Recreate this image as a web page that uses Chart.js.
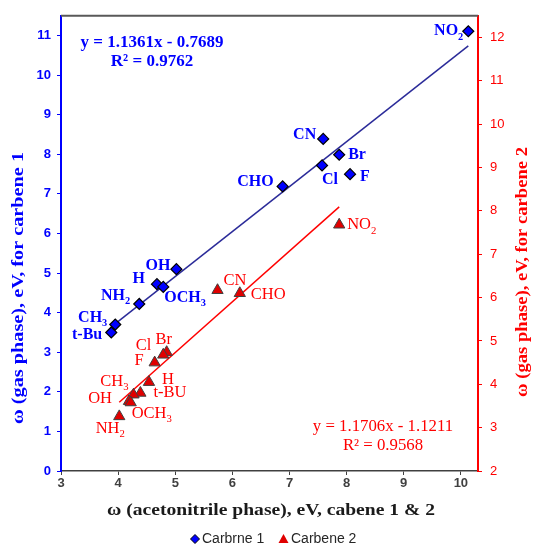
<!DOCTYPE html>
<html>
<head>
<meta charset="utf-8">
<script src="https://cdn.jsdelivr.net/npm/chart.js@4.4.0/dist/chart.umd.min.js"></script>
<style>
    body { margin: 0; background: #fff; }
</style>
</head>
<body>
<canvas id="chart" width="533" height="545"></canvas>
<script>
// carbene 1 (blue diamonds, left axis)
const subst1 = ["NO_2", "CN", "Br", "Cl", "F", "CHO", "OH", "H", "OCH_3", "NH_2", "CH_3", "t-Bu"];
const acn1 = [10.13, 7.59, 7.87, 7.57, 8.06, 6.88, 5.02, 4.68, 4.79, 4.37, 3.95, 3.88];
const gas1 = [11.11, 8.39, 7.99, 7.72, 7.50, 7.19, 5.10, 4.72, 4.65, 4.22, 3.70, 3.50];

// carbene 2 (red triangles, right axis)
const subst2 = ["NO_2", "CN", "CHO", "Br", "Cl", "F", "H", "t-BU", "CH_3", "OH", "OCH_3", "NH_2"];
const acn2 = [7.87, 5.74, 6.13, 4.85, 4.79, 4.64, 4.54, 4.39, 4.27, 4.19, 4.22, 4.02];
const gas2 = [7.68, 6.17, 6.10, 4.74, 4.68, 4.50, 4.05, 3.80, 3.76, 3.61, 3.58, 3.26];

// linear trendlines (from the equations on the chart)
const fitSlope = [1.1361, 1.1706];
const fitIntercept = [-0.7689, -1.1211];
const fitR2 = ["0.9762", "0.9568"];

const seriesNames = ["Carbrne 1", "Carbene 2"];

// label placement next to each point: [dx, dy, align]
const labelPos1 = [[-5, 0, "right"], [-7, -4, "right"], [9, 0, "left"], [0, 14, "left"], [10, 3, "left"], [-9, -5, "right"],
    [-6, -3, "right"], [-12, -5, "right"], [1, 11, "left"], [-9, -8, "right"], [-8, -7, "right"], [-9, 2, "right"]];
const labelPos2 = [[8, 0, "left"], [6, -10, "left"], [11, 1, "left"], [-3, -13, "center"], [-12, -9, "right"], [-11, -2, "right"],
    [13, -2, "left"], [13, 0, "left"], [-5, -13, "right"], [-17, -3, "right"], [1, 11, "left"], [-9, 12, "center"]];

const SERIF = '"Liberation Serif", "Times New Roman", serif';
const SANS = '"Liberation Sans", Arial, sans-serif';
const BLUE = "#0000ff";
const RED = "#ff0000";

function toPoints(xs, ys) {
    return xs.map((x, i) => ({ x: x, y: ys[i] }));
}

function trend(xs, k) {
    const lo = Math.min(...xs), hi = Math.max(...xs);
    return [lo, hi].map(x => ({ x: x, y: fitSlope[k] * x + fitIntercept[k] }));
}

// text with an optional subscript part after "_"
function drawRich(ctx, text, x, y, align, size, weight, color) {
    const [main, sub] = text.split("_");
    const subSize = size * 0.65;
    ctx.font = `${weight} ${size}px ${SERIF}`;
    const wMain = ctx.measureText(main).width;
    ctx.font = `${weight} ${subSize}px ${SERIF}`;
    const wSub = sub ? ctx.measureText(sub).width : 0;
    const total = wMain + wSub;
    let x0 = x;
    if (align === "right") x0 = x - total;
    if (align === "center") x0 = x - total / 2;
    ctx.fillStyle = color;
    ctx.textAlign = "left";
    ctx.textBaseline = "middle";
    ctx.font = `${weight} ${size}px ${SERIF}`;
    ctx.fillText(main, x0, y);
    if (sub) {
        ctx.font = `${weight} ${subSize}px ${SERIF}`;
        ctx.fillText(sub, x0 + wMain, y + size * 0.36);
    }
}

// centred title, stretched along its length to a given span (the original is a bit wide)
function drawTitle(ctx, text, cx, cy, angle, span, font, color) {
    ctx.save();
    ctx.translate(cx, cy);
    ctx.rotate(angle);
    ctx.font = font;
    ctx.fillStyle = color;
    ctx.textAlign = "center";
    ctx.textBaseline = "middle";
    const w = ctx.measureText(text).width;
    ctx.scale(span / w, 1);
    ctx.fillText(text, 0, 0);
    ctx.restore();
}

const extras = {
    id: "extras",
    afterDatasetsDraw(chart) {
        const ctx = chart.ctx;
        const area = chart.chartArea;
        const sx = chart.scales.x, sy = chart.scales.y, sy2 = chart.scales.y2;
        ctx.save();

        // top border of the plot
        ctx.strokeStyle = "#595959";
        ctx.lineWidth = 2;
        ctx.beginPath();
        ctx.moveTo(area.left, area.top);
        ctx.lineTo(area.right, area.top);
        ctx.stroke();

        // point labels
        subst1.forEach((s, i) => {
            const p = labelPos1[i];
            drawRich(ctx, s, sx.getPixelForValue(acn1[i]) + p[0], sy.getPixelForValue(gas1[i]) + p[1], p[2], 16, "bold", BLUE);
        });
        subst2.forEach((s, i) => {
            const p = labelPos2[i];
            drawRich(ctx, s, sx.getPixelForValue(acn2[i]) + p[0], sy2.getPixelForValue(gas2[i]) + p[1], p[2], 16.5, "normal", RED);
        });

        // trendline equations
        ctx.textAlign = "center";
        ctx.textBaseline = "middle";
        ctx.fillStyle = BLUE;
        ctx.font = `bold 17px ${SERIF}`;
        ctx.fillText(`y = ${fitSlope[0].toFixed(4)}x - ${Math.abs(fitIntercept[0]).toFixed(4)}`, 152, 43);
        ctx.fillText(`R\u00b2 = ${fitR2[0]}`, 152, 62);
        ctx.fillStyle = RED;
        ctx.font = `16.8px ${SERIF}`;
        ctx.fillText(`y = ${fitSlope[1].toFixed(4)}x - ${Math.abs(fitIntercept[1]).toFixed(4)}`, 383, 427);
        ctx.fillText(`R\u00b2 = ${fitR2[1]}`, 383, 446);

        // axis titles
        drawTitle(ctx, "\u03c9 (acetonitrile phase), eV, cabene 1 & 2", 271, 511, 0, 328, `bold 17px ${SERIF}`, "#1a1a1a");
        drawTitle(ctx, "\u03c9 (gas phase), eV, for carbene 1", 19, 288, -Math.PI / 2, 272, `bold 17px ${SERIF}`, BLUE);
        drawTitle(ctx, "\u03c9 (gas phase), eV, for carbene 2", 523, 272, -Math.PI / 2, 250, `bold 16px ${SERIF}`, RED);

        // legend
        ctx.textAlign = "left";
        ctx.textBaseline = "middle";
        ctx.font = `14px ${SANS}`;
        const ly = 539;
        ctx.beginPath();
        ctx.moveTo(195, ly - 4.5); ctx.lineTo(199.5, ly); ctx.lineTo(195, ly + 4.5); ctx.lineTo(190.5, ly);
        ctx.closePath();
        ctx.fillStyle = BLUE; ctx.fill();
        ctx.strokeStyle = "#000"; ctx.lineWidth = 1; ctx.stroke();
        ctx.fillStyle = "#262626";
        ctx.fillText(seriesNames[0], 202, ly);
        ctx.beginPath();
        ctx.moveTo(283.5, ly - 5); ctx.lineTo(288.5, ly + 4); ctx.lineTo(278.5, ly + 4);
        ctx.closePath();
        ctx.fillStyle = "#e00000"; ctx.fill();
        ctx.fillStyle = "#262626";
        ctx.fillText(seriesNames[1], 291, ly);

        ctx.restore();
    }
};

new Chart(document.getElementById("chart"), {
    type: "scatter",
    data: {
        datasets: [
            {
                label: seriesNames[0],
                data: toPoints(acn1, gas1),
                yAxisID: "y",
                pointStyle: "rectRot",
                pointRadius: 5.5,
                backgroundColor: BLUE,
                borderColor: "#000",
                borderWidth: 1.2,
            },
            {
                label: seriesNames[1],
                data: toPoints(acn2, gas2),
                yAxisID: "y2",
                pointStyle: "triangle",
                pointRadius: 6.5,
                backgroundColor: "#e00000",
                borderColor: "#404040",
                borderWidth: 1,
            },
            {
                label: "fit 1",
                data: trend(acn1, 0),
                yAxisID: "y",
                showLine: true,
                pointRadius: 0,
                borderColor: "#2b2b99",
                borderWidth: 1.5,
            },
            {
                label: "fit 2",
                data: trend(acn2, 1),
                yAxisID: "y2",
                showLine: true,
                pointRadius: 0,
                borderColor: RED,
                borderWidth: 1.5,
            },
        ],
    },
    plugins: [extras],
    options: {
        responsive: false,
        animation: false,
        layout: { padding: { top: 14, left: 0, right: 0, bottom: 0 } },
        plugins: {
            legend: { display: false },
            tooltip: { enabled: false },
        },
        scales: {
            x: {
                type: "linear",
                min: 3,
                max: 10.3,
                afterFit: s => { s.height = 74; },
                ticks: { stepSize: 1, includeBounds: false, padding: 1, color: "#404040", font: { family: SANS, size: 13, weight: "bold" } },
                grid: { drawOnChartArea: false, tickLength: 4, color: "#404040" },
                border: { color: "#404040", width: 1.5 },
            },
            y: {
                position: "left",
                min: 0,
                max: 11.5,
                afterFit: s => { s.width = 61; },
                ticks: { stepSize: 1, includeBounds: false, padding: 6, color: BLUE, font: { family: SANS, size: 13, weight: "bold" } },
                grid: { drawOnChartArea: false, tickLength: 4, color: BLUE },
                border: { color: BLUE, width: 2 },
            },
            y2: {
                position: "right",
                min: 2,
                max: 12.5,
                afterFit: s => { s.width = 55; },
                ticks: { stepSize: 1, includeBounds: false, padding: 8, color: RED, font: { family: SANS, size: 13 } },
                grid: { drawOnChartArea: false, tickLength: 4, color: RED },
                border: { color: RED, width: 2 },
            },
        },
    },
});
</script>
</body>
</html>
